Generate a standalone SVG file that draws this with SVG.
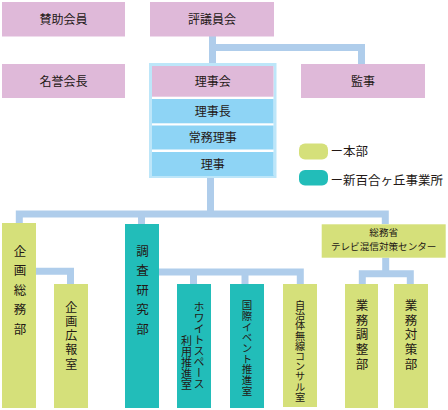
<svg xmlns="http://www.w3.org/2000/svg" width="448" height="410" viewBox="0 0 448 410">
<style>
text{font-family:"Noto Sans CJK JP","Noto Sans",sans-serif;fill:#231815;}
.h{font-size:12px;text-anchor:middle;}
.s{font-size:9.6px;text-anchor:middle;}
.v{writing-mode:vertical-rl;text-orientation:mixed;}
.pink{fill:#dfb9d9;}
.blue{fill:#8ed4f5;}
.green{fill:#d5e07a;}
.teal{fill:#22bdb9;}
.conn path{fill:none;stroke:#afcdeb;stroke-width:7;stroke-linejoin:miter;}
</style>
<rect width="448" height="410" fill="#ffffff"/>
<g class="conn" id="connectors">
<path d="M212.5,36 V64"/>
<path d="M212.5,47.5 H361.5 V64"/>
<path d="M210.5,178 V214"/>
<path d="M19.3,223 V214 H385.3 V224"/>
<path d="M141.5,214 V224"/>
<path d="M36,271.3 H70.5 V284"/>
<path d="M159,272 H300.3 V284"/>
<path d="M193.5,272 V284"/>
<path d="M245,272 V284"/>
<path d="M385.7,257.7 V273.7"/>
<path d="M362.3,284 V273.7 H410.3 V284"/>
</g>
<g id="sanjo"><rect class="pink" x="2" y="2" width="123" height="34.5"/><text class="h" x="63.5" y="23.5">賛助会員</text></g>
<g id="hyogiin"><rect class="pink" x="150" y="2" width="124" height="34.5"/><text class="h" x="212" y="23.5">評議員会</text></g>
<g id="meiyo"><rect class="pink" x="2" y="64" width="123" height="34"/><text class="h" x="63.5" y="85.5">名誉会長</text></g>
<g id="kanji"><rect class="pink" x="301" y="64" width="124" height="34"/><text class="h" x="363" y="85.5">監事</text></g>
<g id="rijikai">
<rect x="150.5" y="64.5" width="124.5" height="112" fill="#ffffff" stroke="#bde6f9" stroke-width="3"/>
<rect class="pink" x="152" y="66" width="121.5" height="30.7"/>
<text class="h" x="212.8" y="86">理事会</text>
<rect class="blue" x="152" y="99" width="121.5" height="24.3"/>
<text class="h" x="212.8" y="115.5">理事長</text>
<rect class="blue" x="152" y="125.5" width="121.5" height="24"/>
<text class="h" x="212.8" y="141.8">常務理事</text>
<rect class="blue" x="152" y="152" width="121.5" height="24"/>
<text class="h" x="212.8" y="168.5">理事</text>
</g>
<g id="legend">
<rect class="green" x="299" y="143.5" width="29" height="16" rx="6"/>
<text x="330.5" y="156.4" font-size="12.5">ー本部</text>
<rect class="teal" x="299" y="170" width="29" height="15.5" rx="6"/>
<text x="330.5" y="184.7" font-size="12.5">ー新百合ヶ丘事業所</text>
</g>
<g id="kikaku-somu"><rect class="green" x="2" y="223" width="34" height="185"/><text class="v" x="20" y="244.5" font-size="12.5" letter-spacing="7">企画総務部</text></g>
<g id="kikaku-koho"><rect class="green" x="54" y="284" width="34" height="124"/><text class="v" x="71.3" y="301" font-size="12" letter-spacing="2.3">企画広報室</text></g>
<g id="chosa"><rect class="teal" x="125" y="224" width="34" height="184"/><text class="v" x="142.5" y="244.5" font-size="12.5" letter-spacing="7">調査研究部</text></g>
<g id="whitespace"><rect class="teal" x="177" y="284" width="34" height="124"/><text class="v" x="199" y="301.5" font-size="11">ホワイトスペース</text><text class="v" x="186.5" y="335.5" font-size="11">利用推進室</text></g>
<g id="kokusai"><rect class="teal" x="230" y="284" width="34" height="124"/><text class="v" x="247" y="300" font-size="10.5" letter-spacing="0.2">国際イベント推進室</text></g>
<g id="jichitai"><rect class="green" x="283" y="284" width="34" height="123"/><text class="v" x="300" y="300" font-size="10.2">自治体無線コンサル室</text></g>
<g id="somusho"><rect class="green" x="321.7" y="224.3" width="124" height="33.4"/><text class="s"><tspan x="383.7" y="236.2">総務省</tspan><tspan x="383.7" y="250.3">テレビ混信対策センター</tspan></text></g>
<g id="gyomu-chosei"><rect class="green" x="345" y="284" width="33" height="124"/><text class="v" x="362" y="298.8" font-size="12.5" letter-spacing="2.25">業務調整部</text></g>
<g id="gyomu-taisaku"><rect class="green" x="394" y="284" width="34" height="124"/><text class="v" x="411" y="298.8" font-size="12.5" letter-spacing="2.25">業務対策部</text></g>
</svg>
